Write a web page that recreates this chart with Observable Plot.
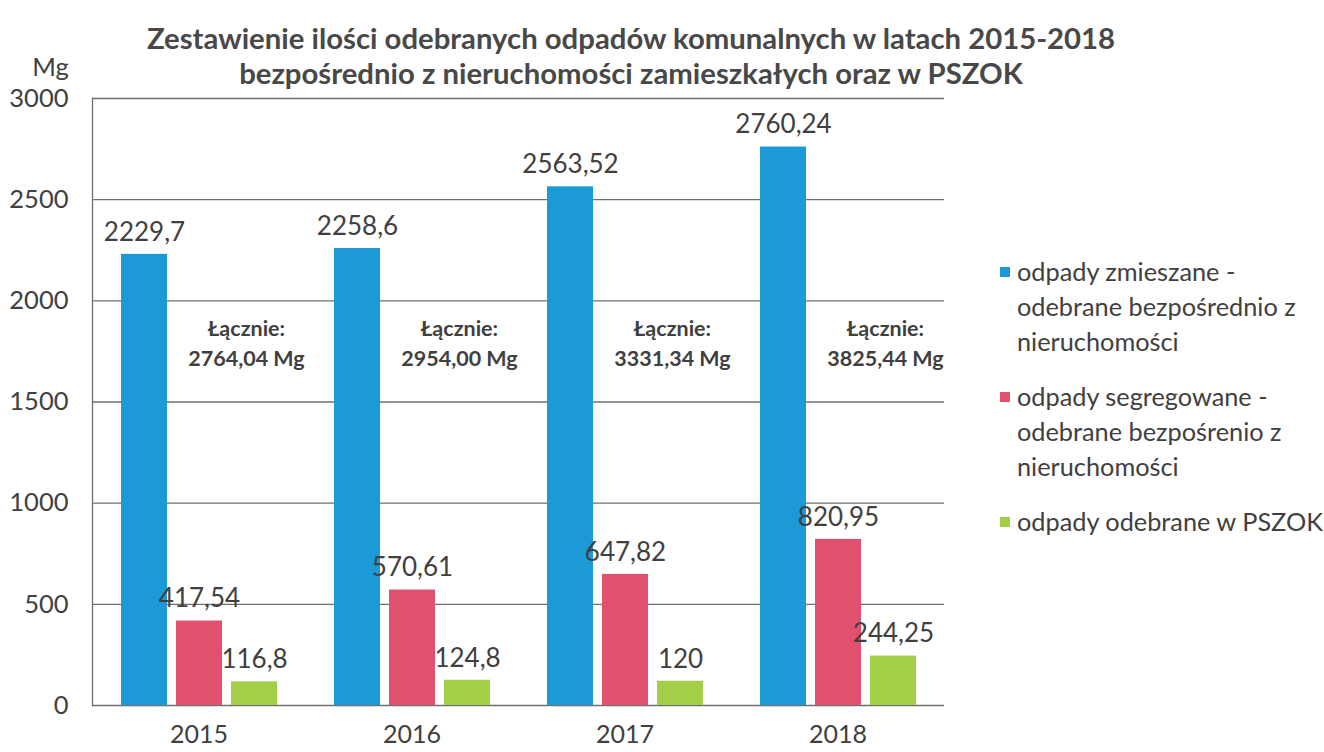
<!DOCTYPE html>
<html>
<head>
<meta charset="utf-8">
<script src="https://cdn.jsdelivr.net/npm/d3@7"></script>
<script src="https://cdn.jsdelivr.net/npm/@observablehq/plot@0.6"></script>
<style>
  html, body { margin: 0; padding: 0; background: #ffffff; }
  #wrap { position: relative; width: 1324px; height: 752px; overflow: hidden; font-family: Lato, "Open Sans", sans-serif; color: #404040; }
  #title { position: absolute; left: 0; top: 20px; width: 1262px; text-align: center; font-weight: bold; font-size: 29.3px; line-height: 35px; color: #484848; }
  #chart { position: absolute; left: 0; top: 0; }
  #legend { position: absolute; left: 998px; top: 254px; font-size: 25.3px; color: #404040; }
  .item { position: relative; padding-left: 19px; line-height: 35px; white-space: pre-line; margin-bottom: 20px; }
  .sw { position: absolute; left: 2px; top: 13px; width: 10px; height: 10px; }
</style>
</head>
<body>
<div id="wrap">
  <div id="chart"></div>
  <div id="title">Zestawienie ilości odebranych odpadów komunalnych w latach 2015-2018<br>bezpośrednio z nieruchomości zamieszkałych oraz w PSZOK</div>
  <div id="legend"></div>
</div>
<script>
const years = ["2015", "2016", "2017", "2018"];
const series = [
  "odpady zmieszane -\nodebrane bezpośrednio z\nnieruchomości",
  "odpady segregowane -\nodebrane bezpośrenio z\nnieruchomości",
  "odpady odebrane w PSZOK"
];
const zmieszane = [2229.7, 2258.6, 2563.52, 2760.24];
const segregowane = [417.54, 570.61, 647.82, 820.95];
const pszok = [116.8, 124.8, 120, 244.25];
const totals = ["2764,04", "2954,00", "3331,34", "3825,44"];
const yTicks = [0, 500, 1000, 1500, 2000, 2500, 3000];
const colors = ["#1b9ad6", "#e1506e", "#a2ce48"];
const yUnit = "Mg";
const totalPrefix = "Łącznie:";

const valuesBySeries = [zmieszane, segregowane, pszok];
const data = [];
years.forEach((yr, i) => {
  series.forEach((s, j) => data.push({ year: yr, series: s, value: valuesBySeries[j][i] }));
});
const totalsData = years.map((yr, i) => ({ year: yr, label: totalPrefix + "\n" + totals[i] + " " + yUnit }));
const fmt = v => String(v).replace(".", ",");

const chart = Plot.plot({
  width: 960,
  height: 752,
  marginTop: 98,
  marginBottom: 47,
  marginLeft: 92,
  marginRight: 16,
  style: { fontFamily: "Lato, 'Open Sans', sans-serif", fontSize: "26px", color: "#404040", background: "transparent", overflow: "visible" },
  fx: { domain: years, padding: 0, label: null },
  x: { domain: series, paddingInner: 0.164, paddingOuter: 0.518, axis: null },
  y: { domain: [0, 3000], label: null },
  color: { domain: series, range: colors },
  marks: [
    Plot.ruleY(yTicks, { stroke: "#6f6f6f", strokeWidth: 1.3 }),
    Plot.frame({ anchor: "left", facet: "super", stroke: "#6f6f6f", strokeWidth: 1.3 }),
    Plot.axisY({ ticks: yTicks, tickFormat: d => String(d), tickSize: 0, tickPadding: 24, label: null, fontSize: 25.5, fill: "#404040" }),
    Plot.axisFx({ anchor: "bottom", tickSize: 0, tickPadding: 20, label: null, fontSize: 25, fill: "#404040" }),
    Plot.barY(data, { fx: "year", x: "series", y: "value", fill: "series" }),
    Plot.text(data, { fx: "year", x: "series", y: "value", text: d => fmt(d.value), dy: -22, fontSize: 26, fill: "#404040" }),
    Plot.text(totalsData, { fx: "year", x: d => series[2], frameAnchor: "top", dx: -8, dy: 216, text: "label", fontWeight: "bold", fontSize: 21.5, lineHeight: 1.4, fill: "#404040" }),
    Plot.text([yUnit], { facet: "super", frameAnchor: "top-left", textAnchor: "middle", lineAnchor: "middle", dx: -42, dy: -31, text: d => d, fontSize: 25.5, fill: "#404040" })
  ]
});
document.getElementById("chart").appendChild(chart);

const legend = document.getElementById("legend");
series.forEach((s, j) => {
  const it = document.createElement("div");
  it.className = "item";
  const sw = document.createElement("span");
  sw.className = "sw";
  sw.style.background = colors[j];
  it.appendChild(sw);
  it.appendChild(document.createTextNode(s));
  legend.appendChild(it);
});
</script>
</body>
</html>
